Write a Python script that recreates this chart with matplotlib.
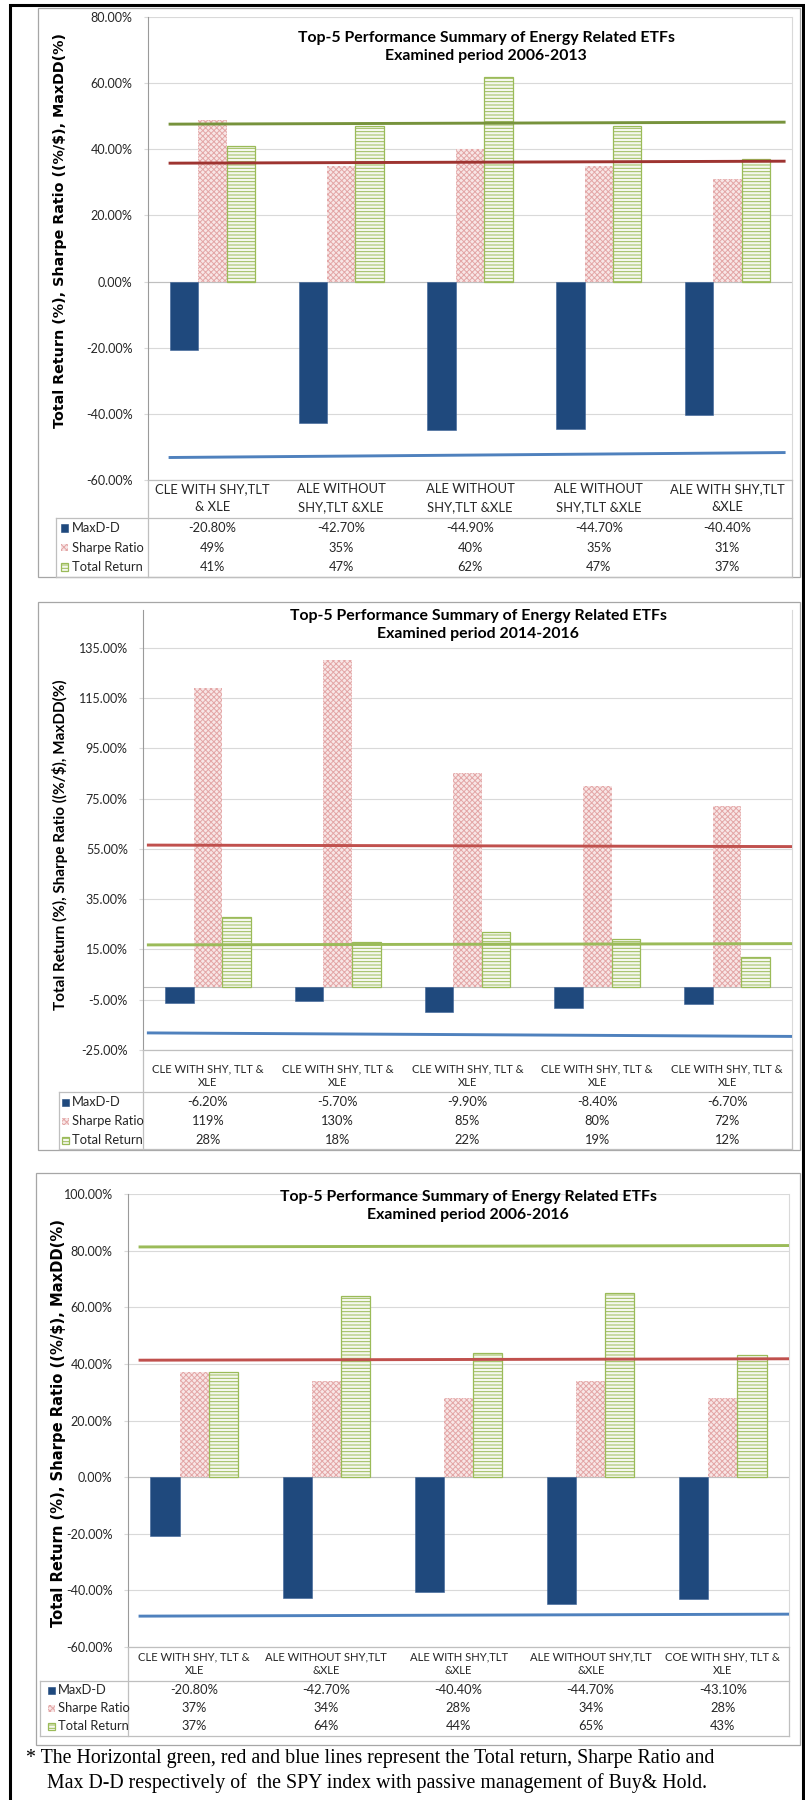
import matplotlib
matplotlib.use("Agg")
import matplotlib.pyplot as plt
from matplotlib.lines import Line2D
from matplotlib.patches import Rectangle
import numpy as np

# ── Data ─────────────────────────────────────────────────────────────────────

SERIES = ["MaxD-D", "Sharpe Ratio", "Total Return"]

TITLES = [
    "Top-5 Performance Summary of Energy Related ETFs\nExamined period 2006-2013",
    "Top-5 Performance Summary of Energy Related ETFs\nExamined period 2014-2016",
    "Top-5 Performance Summary of Energy Related ETFs\nExamined period 2006-2016",
]

YLABEL = "Total Return (%), Sharpe Ratio ((%/$), MaxDD(%)"

# 2006-2013
CATS_1 = [
    "CLE WITH SHY,TLT\n& XLE",
    "ALE WITHOUT\nSHY,TLT &XLE",
    "ALE WITHOUT\nSHY,TLT &XLE",
    "ALE WITHOUT\nSHY,TLT &XLE",
    "ALE WITH SHY,TLT\n&XLE",
]
MAXDD_1  = [-20.8, -42.7, -44.9, -44.7, -40.4]
SHARPE_1 = [49, 35, 40, 35, 31]
TOTAL_1  = [41, 47, 62, 47, 37]

# 2014-2016
CATS_2 = ["CLE WITH SHY, TLT &\nXLE"] * 5
MAXDD_2  = [-6.2, -5.7, -9.9, -8.4, -6.7]
SHARPE_2 = [119, 130, 85, 80, 72]
TOTAL_2  = [28, 18, 22, 19, 12]

# 2006-2016
CATS_3 = [
    "CLE WITH SHY, TLT &\nXLE",
    "ALE WITHOUT SHY,TLT\n&XLE",
    "ALE WITH SHY,TLT\n&XLE",
    "ALE WITHOUT SHY,TLT\n&XLE",
    "COE WITH SHY, TLT &\nXLE",
]
MAXDD_3  = [-20.8, -42.7, -40.4, -44.7, -43.1]
SHARPE_3 = [37, 34, 28, 34, 28]
TOTAL_3  = [37, 64, 44, 65, 43]

# SPY buy & hold reference lines (value at left end, value at right end)
SPY_TOTAL_1,  SPY_SHARPE_1, SPY_MAXDD_1 = (47.6, 48.2), (35.8, 36.4), (-53.2, -51.7)
SPY_TOTAL_2,  SPY_SHARPE_2, SPY_MAXDD_2 = (16.8, 17.3), (56.5, 55.9), (-18.2, -19.6)
SPY_TOTAL_3,  SPY_SHARPE_3, SPY_MAXDD_3 = (81.3, 81.8), (41.3, 41.8), (-49.1, -48.4)

FOOTNOTE = [
    "* The Horizontal green, red and blue lines represent the Total return, Sharpe Ratio and",
    "Max D-D respectively of  the SPY index with passive management of Buy& Hold.",
]

# ── Layout (pixels, top-left origin) ─────────────────────────────────────────

W, H = 805, 1800

PANELS = [
    dict(cats=CATS_1, vals=(MAXDD_1, SHARPE_1, TOTAL_1),
         spy=(SPY_TOTAL_1, SPY_SHARPE_1, SPY_MAXDD_1), spy_x=(-0.34, 4.45),
         spy_cols=("#77933C", "#9E3431", "#4F81BD"),
         box=(38, 8, 800, 577), plot=(148, 17, 792, 480),
         ylim=(-60, 80), ticks=np.arange(-60, 81, 20),
         title_xy=(486, 47), hdr=(489, 507), hdr_size=9.4,
         sep=518, rows=(528, 548, 567),
         tbl_bottom=577, leg_left=56, key_x=61, txt_x=72,
         ylab_xy=(60, 230), ylab_font=("DejaVu Sans", 10.3)),
    dict(cats=CATS_2, vals=(MAXDD_2, SHARPE_2, TOTAL_2),
         spy=(SPY_TOTAL_2, SPY_SHARPE_2, SPY_MAXDD_2), spy_x=(-0.47, 4.5),
         spy_cols=("#9BBB59", "#C0504D", "#4F81BD"),
         box=(38, 602, 800, 1150), plot=(143, 610, 792, 1050),
         ylim=(-25, 150), ticks=np.arange(-25, 136, 20),
         title_xy=(478, 625), hdr=(1069, 1083), hdr_size=8.1,
         sep=1092, rows=(1102, 1121, 1140),
         tbl_bottom=1149, leg_left=59, key_x=62, txt_x=72,
         ylab_xy=(60, 845), ylab_font=("Lato", 11.0)),
    dict(cats=CATS_3, vals=(MAXDD_3, SHARPE_3, TOTAL_3),
         spy=(SPY_TOTAL_3, SPY_SHARPE_3, SPY_MAXDD_3), spy_x=(-0.42, 4.5),
         spy_cols=("#9BBB59", "#C0504D", "#4F81BD"),
         box=(36, 1173, 800, 1745), plot=(128, 1194, 789, 1647),
         ylim=(-60, 100), ticks=np.arange(-60, 101, 20),
         title_xy=(468, 1206), hdr=(1657, 1671), hdr_size=8.1,
         sep=1681, rows=(1690, 1708, 1726),
         tbl_bottom=1736, leg_left=40, key_x=48, txt_x=58,
         ylab_xy=(58, 1423), ylab_font=("DejaVu Sans", 10.6)),
]

BLUE = "#1F497D"
BAR_W = 0.22
GRID = "#D9D9D9"
BORDER = "#A6A6A6"
TXT = "#262626"

plt.rcParams.update({
    "font.family": ["Lato", "DejaVu Sans"],
    "hatch.linewidth": 0.7,
})

fig = plt.figure(figsize=(W / 100, H / 100), dpi=100)
fig.patch.set_facecolor("white")


def fx(x):
    return x / W


def fy(y):
    return 1 - y / H


def hline(y, x0, x1, **kw):
    fig.add_artist(Line2D([fx(x0), fx(x1)], [fy(y), fy(y)], **kw))


def vline(x, y0, y1, **kw):
    fig.add_artist(Line2D([fx(x), fx(x)], [fy(y0), fy(y1)], **kw))


BAR_STYLE = [
    dict(color=BLUE, edgecolor="#3B6196", linewidth=0.4),
    dict(facecolor="#F8E6E6", edgecolor="#E3A6A6", hatch="xxxxxx", linewidth=0.0),
    dict(facecolor="#F5F8EE", edgecolor="#9BBB59", hatch="-----", linewidth=0.9),
]


def draw_panel(p, title):
    bl, bt, br, bb = p["box"]
    fig.add_artist(Rectangle((fx(bl), fy(bb)), fx(br - bl), (bb - bt) / H,
                             fill=False, edgecolor=BORDER, linewidth=0.9))

    pl, pt, pr, pb = p["plot"]
    ax = fig.add_axes([fx(pl), fy(pb), fx(pr - pl), (pb - pt) / H])
    ax.set_xlim(-0.5, 4.5)
    ax.set_ylim(*p["ylim"])
    ax.set_yticks(p["ticks"])
    ax.set_yticklabels([f"{t:.2f}%" for t in p["ticks"]])
    ax.tick_params(axis="y", labelsize=9, labelcolor=TXT, length=3,
                   color=GRID, pad=8)
    ax.set_xticks([])
    ax.grid(axis="y", color=GRID, linewidth=0.8)
    ax.set_axisbelow(True)
    for s in ("top", "bottom"):
        ax.spines[s].set_visible(False)
    ax.spines["left"].set_color("#9A9A9A")
    ax.spines["right"].set_color(GRID)
    ax.axhline(0, color="#BFBFBF", linewidth=0.8, zorder=1)

    x = np.arange(len(p["cats"]))
    for i, (vals, st) in enumerate(zip(p["vals"], BAR_STYLE)):
        ax.bar(x + (i - 1) * BAR_W, vals, BAR_W, zorder=2, **st)

    # SPY reference lines
    x0, x1 = p["spy_x"]
    for (v0, v1), c in zip(p["spy"], p["spy_cols"]):
        ax.plot([x0, x1], [v0, v1], color=c, linewidth=2.1, zorder=3,
                solid_capstyle="butt", clip_on=False)

    fig.text(fx(p["title_xy"][0]), fy(p["title_xy"][1]), title, ha="center",
             va="center", fontsize=11.4, fontweight="bold", color="black",
             linespacing=1.3)

    fam, size = p["ylab_font"]
    fig.text(fx(p["ylab_xy"][0]), fy(p["ylab_xy"][1]), YLABEL, rotation=90,
             ha="center", va="center", fontsize=size, fontweight="bold",
             family=[fam, "DejaVu Sans"], color="black")

    # data table under the plot
    col_w = (pr - pl) / len(p["cats"])
    for j, cat in enumerate(p["cats"]):
        cx = pl + (j + 0.5) * col_w
        for k, line in enumerate(cat.split("\n")):
            fig.text(fx(cx), fy(p["hdr"][k]), line, ha="center", va="center",
                     fontsize=p["hdr_size"], color=TXT)

    fmts = ["{:.2f}%", "{:.0f}%", "{:.0f}%"]
    for r, (name, vals, fmt, st) in enumerate(zip(SERIES, p["vals"], fmts, BAR_STYLE)):
        ry = p["rows"][r]
        fig.text(fx(p["txt_x"]), fy(ry), name, ha="left", va="center",
                 fontsize=9.3, color=TXT)
        fig.add_artist(Rectangle((fx(p["key_x"]), fy(ry + 3.5)), fx(7), 7 / H, **st))
        for j, v in enumerate(vals):
            cx = pl + (j + 0.5) * col_w
            fig.text(fx(cx), fy(ry), fmt.format(v), ha="center", va="center",
                     fontsize=9.3, color=TXT)

    tb = p["tbl_bottom"]
    line_kw = dict(color="#BFBFBF", linewidth=0.9)
    vline(pl, pb, tb, **line_kw)
    vline(pr, pb, tb, **line_kw)
    hline(pb, pl, pr, **line_kw)
    hline(p["sep"], p["leg_left"], pr, **line_kw)
    hline(tb, p["leg_left"], pr, **line_kw)
    vline(p["leg_left"], p["sep"], tb, **line_kw)
    return ax


for panel, title in zip(PANELS, TITLES):
    draw_panel(panel, title)

# footnote
for k, (line, x0) in enumerate(zip(FOOTNOTE, (26, 47))):
    fig.text(fx(x0), fy(1759 + k * 24), line, ha="left", va="center",
             fontsize=14.3, family=["Liberation Serif", "DejaVu Serif"],
             color="black")

# outer black frame
fig.add_artist(Rectangle((fx(10), fy(1810)), fx(793), 1805 / H, fill=False,
                         edgecolor="black", linewidth=2.2))

fig.savefig("out.png", dpi=100, facecolor="white")
